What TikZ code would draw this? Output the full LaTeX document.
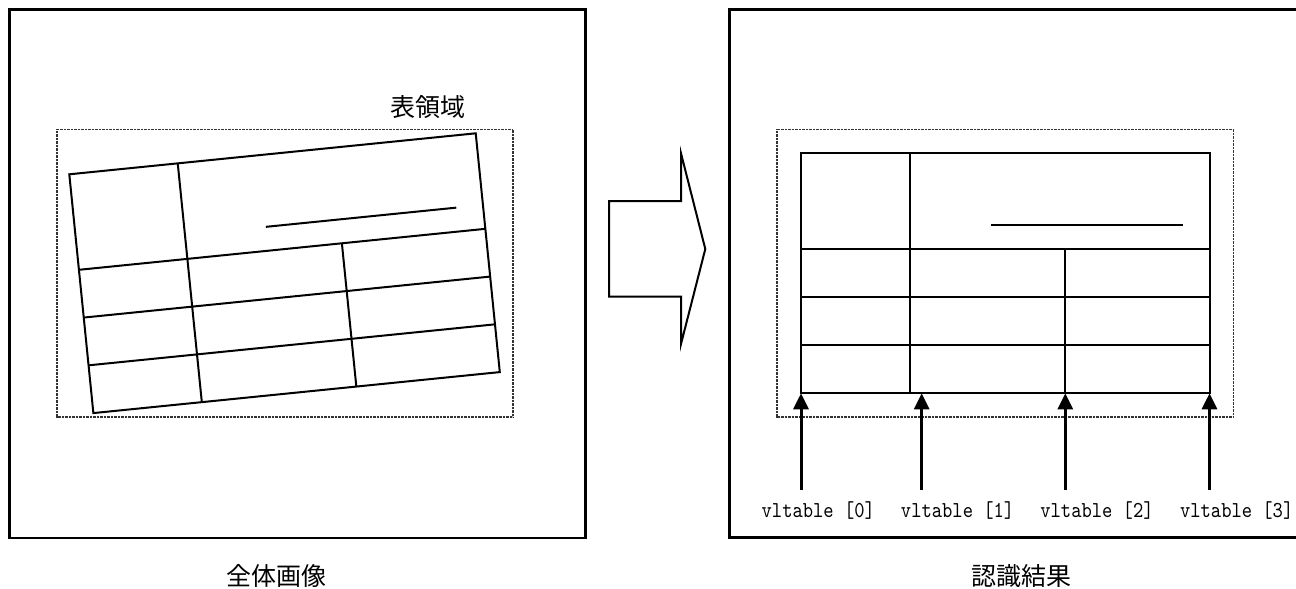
\documentclass[tikz,border=0pt]{standalone}
\usepackage{fontspec}
\usetikzlibrary{arrows.meta}
\newfontfamily\cjk{Noto Sans CJK JP}
\newfontfamily\lmmono[FakeStretch=0.86]{lmmono10-regular.otf}
\tikzset{
  frame/.style={draw=black, line width=2.2pt},
  region/.style={draw=black!80, line width=1.6pt, dash pattern=on 0.8pt off 0.6pt},
  tbl/.style={draw=black, line width=2pt},
  uparrow/.style={draw=black, line width=3pt, -{Triangle[width=15pt,length=16pt]}},
  cjklabel/.style={font=\cjk\fontsize{25}{30}\selectfont, inner sep=0pt},
  vlabel/.style={font=\lmmono\fontsize{22.8}{26}\selectfont, inner sep=0pt},
  pics/gridtable/.style={code={
    \draw[tbl] (0,0) rectangle (408.5,240);
    \draw[tbl] (0,96) -- (408.5,96) (0,144) -- (408.5,144) (0,192) -- (408.5,192);
    \draw[tbl] (109,0) -- (109,240) (264.3,96) -- (264.3,240);
    \draw[tbl] (190.3,72) -- (381.7,72);
    \coordinate (-b0) at (0,240);
    \coordinate (-b1) at (120.7,240);
    \coordinate (-b2) at (264.3,240);
    \coordinate (-b3) at (408.5,240);
  }}
}
\begin{document}
\begin{tikzpicture}[x=1pt,y=-1pt]
\useasboundingbox (0,0) rectangle (1296,589);
% left panel
\draw[frame] (9.5,9.5) rectangle (585.5,538);
\draw[region] (57,129.3) rectangle (513,417);
\node[cjklabel] (area) at (427.7,107.5) {表領域};
\pic[rotate=5.76] (L) at (69.3,174.3) {gridtable};
\node[cjklabel] (whole) at (276.3,576) {全体画像};
% big arrow
\draw[line width=2pt, line join=miter] (609,201) -- (681,201) -- (681,153.3) -- (705.3,249)
  -- (681,344) -- (681,296.7) -- (609,296.7) -- cycle;
% right panel
\draw[frame] (729.5,9.5) rectangle (1302,537.5);
\draw[region] (777,129.3) rectangle (1233.5,417);
\pic (R) at (801,153.3) {gridtable};
\node[cjklabel] (result) at (1021.7,576) {認識結果};
% index arrows
\coordinate (a0) at (801,490);
\coordinate (a1) at (921.7,490);
\coordinate (a2) at (1065.3,490);
\coordinate (a3) at (1209.5,490);
\draw[uparrow] (a0) -- (R-b0);
\draw[uparrow] (a1) -- (R-b1);
\draw[uparrow] (a2) -- (R-b2);
\draw[uparrow] (a3) -- (R-b3);
\node[vlabel] (v0) at (818.3,511) {vltable [0]};
\node[vlabel] (v1) at (957.6,511) {vltable [1]};
\node[vlabel] (v2) at (1097,511) {vltable [2]};
\node[vlabel] (v3) at (1236.7,511) {vltable [3]};
\end{tikzpicture}
\end{document}
